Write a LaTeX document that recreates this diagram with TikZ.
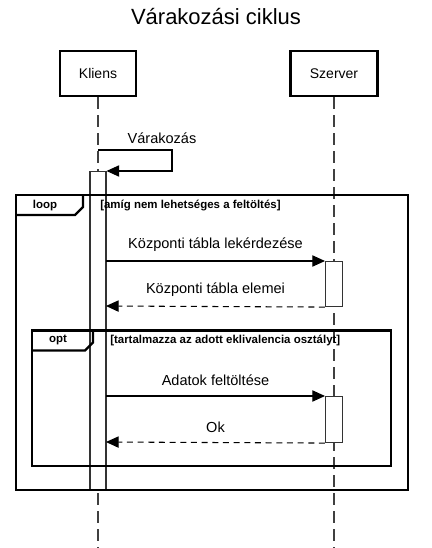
\documentclass[tikz,border=0pt]{standalone}
\usepackage{fontspec}
\setmainfont{Liberation Sans}
\usetikzlibrary{arrows.meta}
\tikzset{
  participant/.style={draw=black, line width=2.2pt*0.75, minimum width=76*0.75pt, minimum height=45*0.75pt, inner sep=0pt, font=\fontsize{10.5}{12}\selectfont},
  lifeline/.style={draw=black!75, line width=1.1pt, dash pattern=on 9pt off 4.5pt},
  actbar/.style={draw=black!80, fill=white, line width=0.8pt},
  frameline/.style={draw=black, line width=1.7pt},
  msg/.style={draw=black, line width=0.8pt, -{Triangle[length=9.5pt,width=8.5pt]}},
  retmsg/.style={draw=black, line width=0.8pt, dash pattern=on 4.5pt off 3.5pt, -{Triangle[length=9.5pt,width=8.5pt]}},
  lbl/.style={font=\fontsize{10.9}{13}\selectfont, inner sep=0pt},
  guard/.style={font=\bfseries\fontsize{8.6}{10}\selectfont, inner sep=0pt, anchor=west},
  fname/.style={font=\bfseries\fontsize{8.6}{10}\selectfont, inner sep=0pt},
}
\begin{document}
\begin{tikzpicture}[x=0.75pt, y=-0.75pt]
\useasboundingbox (0,0) rectangle (431,548);
% title
\node[font=\fontsize{16.5}{19}\selectfont, inner sep=0pt] (title) at (216,17) {Várakozási ciklus};
% participants
\node[participant] (kliens) at (98,73.5) {Kliens};
\node[participant, minimum width=87*0.75pt] (szerver) at (334,73.5) {Szerver};
\coordinate (kend) at (98,548);
\coordinate (send) at (334,548);
\draw[lifeline] (kliens.south) -- (kend);
\draw[lifeline] (szerver.south) -- (send);
% activation bars
\node[actbar, minimum width=16*0.75pt, minimum height=319*0.75pt, inner sep=0pt, anchor=north] (kact) at (98,171) {};
\node[actbar, minimum width=17*0.75pt, minimum height=45*0.75pt, inner sep=0pt, anchor=north] (sact1) at (334,261) {};
\node[actbar, minimum width=17*0.75pt, minimum height=46*0.75pt, inner sep=0pt, anchor=north] (sact2) at (334,396) {};
% self message
\coordinate (s1) at (98,150);
\coordinate (s2) at (172,150);
\coordinate (s3) at (172,171);
\draw[msg] (s1) -- (s2) -- (s3) -- (kact.north east);
\node[lbl] (lwait) at (162,138) {Várakozás};
% loop frame
\draw[frameline] (16,195) rectangle (408,490);
\draw[frameline] (16,215) -- (75,215) -- (83,207) -- (83,195);
\node[fname] (loopname) at (45,206) {loop};
\node[guard] (loopguard) at (100,206) {[amíg nem lehetséges a feltöltés]};
% messages 1
\coordinate (m1a) at (106,261);
\draw[msg] (m1a) -- (sact1.north west) node[lbl, midway, above=7pt] (l1) {Központi tábla lekérdezése};
\coordinate (m2b) at (106,306);
\draw[retmsg] (sact1.south west) -- (m2b) node[lbl, midway, above=7pt] (l2) {Központi tábla elemei};
% opt frame
\draw[frameline] (32,330.5) rectangle (391,466);
\draw[frameline] (32,350.5) -- (85,350.5) -- (93,342.5) -- (93,330.5);
\node[fname] (optname) at (58,340) {opt};
\node[guard] (optguard) at (110,340) {[tartalmazza az adott eklivalencia osztályt]};
% messages 2
\coordinate (m3a) at (106,396);
\draw[msg] (m3a) -- (sact2.north west) node[lbl, midway, above=7pt] (l3) {Adatok feltöltése};
\coordinate (m4b) at (106,442);
\draw[retmsg] (sact2.south west) -- (m4b) node[lbl, midway, above=7pt] (l4) {Ok};
\end{tikzpicture}
\end{document}
